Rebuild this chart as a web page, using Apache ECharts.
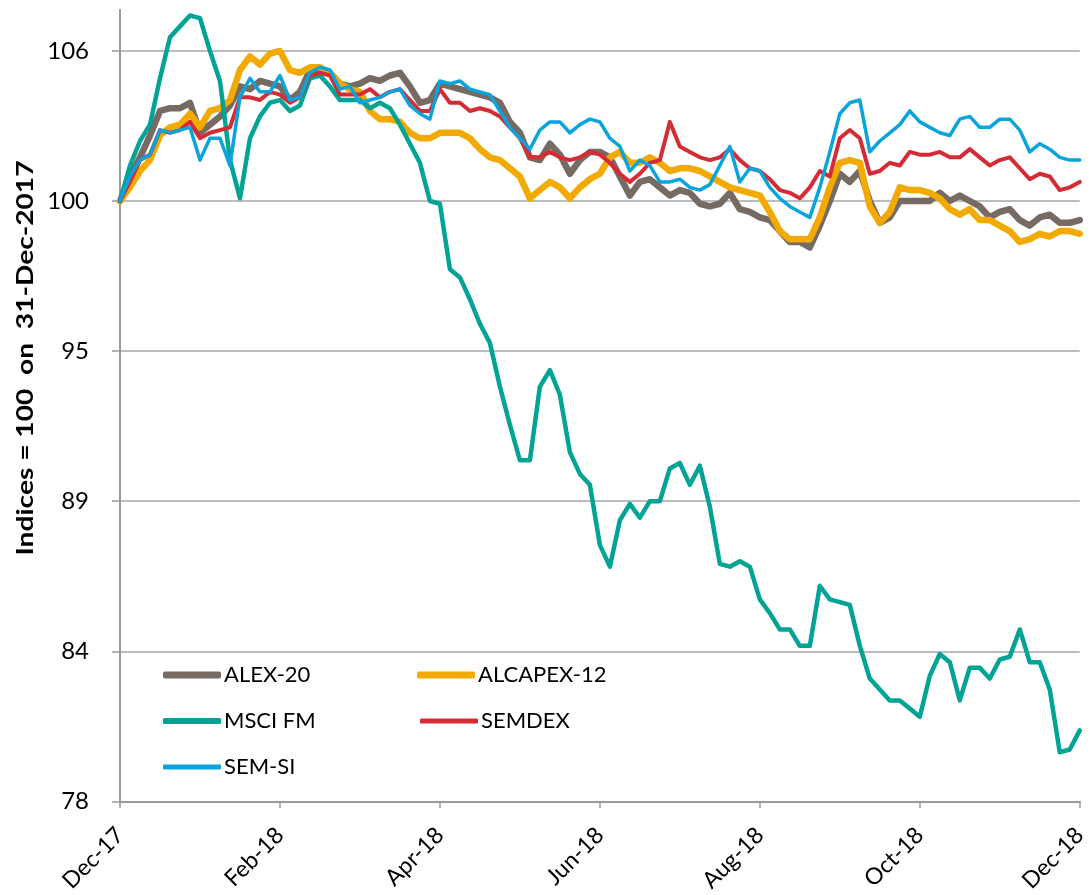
<!DOCTYPE html>
<html>
<head>
<meta charset="utf-8">
<script src="https://cdn.jsdelivr.net/npm/echarts@6/dist/echarts.min.js"></script>
<style>
html,body{margin:0;padding:0;background:#fff;}
#chart{width:1090px;height:895px;}
</style>
</head>
<body>
<div id="chart"></div>
<script>
// ---- data ----
const xTickLabels = ['Dec-17','Feb-18','Apr-18','Jun-18','Aug-18','Oct-18','Dec-18'];
const yTickLabels = ['78','84','89','95','100','106'];
const stepMonths = 1/8; // values sampled every 1/8 month from 31-Dec-2017
const seriesNames = ['ALEX-20','ALCAPEX-12','MSCI FM','SEMDEX','SEM-SI'];

const alex20 = [
100.0,100.9,101.6,102.4,103.3,103.4,103.4,103.6,102.5,102.8,
103.1,103.5,104.2,104.1,104.4,104.3,104.2,103.7,104.0,104.8,
104.8,104.7,104.3,104.2,104.3,104.5,104.4,104.6,104.7,104.2,
103.6,103.7,104.3,104.2,104.1,104.0,103.9,103.8,103.6,102.9,
102.5,101.6,101.5,102.1,101.7,101.0,101.5,101.8,101.8,101.6,
100.9,100.2,100.7,100.8,100.5,100.2,100.4,100.3,99.9,99.8,
99.9,100.3,99.7,99.6,99.4,99.3,98.9,98.5,98.5,98.3,
99.1,100.0,101.0,100.7,101.1,100.0,99.2,99.4,100.0,100.0,
100.0,100.0,100.3,100.0,100.2,100.0,99.8,99.4,99.6,99.7,
99.3,99.1,99.4,99.5,99.2,99.2,99.3];

const alcapex12 = [
100.0,100.5,101.1,101.5,102.4,102.7,102.8,103.2,102.7,103.3,
103.4,103.7,104.8,105.3,105.0,105.4,105.5,104.8,104.7,104.9,
104.9,104.7,104.3,104.1,104.0,103.3,103.0,103.0,102.9,102.5,
102.3,102.3,102.5,102.5,102.5,102.3,101.9,101.6,101.5,101.2,
100.9,100.1,100.4,100.7,100.5,100.1,100.5,100.8,101.0,101.6,
101.8,101.4,101.4,101.6,101.4,101.1,101.2,101.2,101.1,100.9,
100.7,100.5,100.4,100.3,100.2,99.6,98.9,98.6,98.6,98.6,
99.4,100.5,101.4,101.5,101.4,99.8,99.2,99.6,100.5,100.4,
100.4,100.3,100.1,99.7,99.5,99.7,99.3,99.3,99.1,98.9,
98.5,98.6,98.8,98.7,98.9,98.9,98.8];

const msciFM = [
100.0,101.3,102.2,102.8,104.5,106.0,106.4,106.8,106.7,105.5,
104.4,101.5,100.1,102.3,103.1,103.6,103.7,103.3,103.5,104.5,
104.6,104.2,103.7,103.7,103.7,103.4,103.6,103.4,102.8,102.1,
101.4,100.0,99.9,97.5,97.2,96.4,95.5,94.8,93.2,91.8,
90.5,90.5,93.2,93.8,92.9,90.8,90.0,89.6,87.4,86.6,
88.3,88.9,88.4,89.0,89.0,90.2,90.4,89.6,90.3,88.8,
86.7,86.6,86.8,86.6,85.4,84.9,84.3,84.3,83.7,83.7,
85.9,85.4,85.3,85.2,83.7,82.5,82.1,81.7,81.7,81.4,
81.1,82.6,83.4,83.1,81.7,82.9,82.9,82.5,83.2,83.3,
84.3,83.1,83.1,82.1,79.8,79.9,80.6];

const semdex = [
100.0,100.7,101.5,101.7,102.6,102.5,102.6,102.9,102.3,102.5,
102.6,102.7,103.8,103.8,103.7,104.0,103.9,103.6,103.8,104.6,
104.7,104.6,103.9,103.9,103.9,104.1,103.8,104.0,104.1,103.7,
103.3,103.3,104.1,103.6,103.6,103.3,103.4,103.3,103.1,102.7,
102.3,101.6,101.6,101.8,101.6,101.5,101.6,101.8,101.7,101.4,
101.0,100.7,101.0,101.4,101.5,102.9,102.0,101.8,101.6,101.5,
101.6,101.9,101.5,101.2,101.1,100.8,100.4,100.3,100.1,100.5,
101.1,100.9,102.3,102.6,102.3,101.0,101.1,101.4,101.3,101.8,
101.7,101.7,101.8,101.6,101.6,101.9,101.6,101.3,101.5,101.6,
101.2,100.8,101.0,100.9,100.4,100.5,100.7];

const semSI = [
100.0,100.9,101.5,101.7,102.6,102.5,102.6,102.7,101.5,102.3,
102.3,101.3,103.8,104.5,104.0,104.0,104.6,103.7,103.8,104.7,
104.9,104.8,104.1,104.2,103.6,103.7,103.8,104.0,104.1,103.5,
103.2,103.0,104.4,104.3,104.4,104.1,104.0,103.9,103.3,102.7,
102.3,101.9,102.6,102.9,102.9,102.5,102.8,103.0,102.9,102.3,
102.0,101.1,101.5,101.3,100.7,100.7,100.8,100.5,100.4,100.6,
101.3,102.0,100.7,101.2,101.1,100.5,100.1,99.8,99.6,99.4,
100.5,101.8,103.2,103.6,103.7,101.8,102.2,102.5,102.8,103.3,
102.9,102.7,102.5,102.4,103.0,103.1,102.7,102.7,103.0,103.0,
102.6,101.8,102.1,101.9,101.6,101.5,101.5];

// ---- chart ----
const FONT = 'Lato, "Open Sans", sans-serif';
const colors = ['#766a62','#f2a900','#00a394','#d52b35','#0aa4dc'];
const widths = [6.5,6.5,4.5,4,3.5];
const values = [alex20, alcapex12, msciFM, semdex, semSI];

function toPairs(arr){ return arr.map((v,i)=>[i*stepMonths, v]); }

const series = seriesNames.map((name, k) => ({
  name: name,
  type: 'line',
  data: toPairs(values[k]),
  showSymbol: false,
  symbol: 'none',
  smooth: false,
  animation: false,
  z: 2 + k,
  lineStyle: {color: colors[k], width: widths[k], cap: 'round', join: 'round'},
  itemStyle: {color: colors[k]}
}));

const legendPos = [
  {left:163, top:664},
  {left:417, top:664},
  {left:163, top:710},
  {left:420, top:710},
  {left:163, top:756}
];
const legendIconH = [7,7,6,5,5];
const legends = seriesNames.map((name,k)=>({
  data: [{name: name, icon: 'roundRect'}],
  left: legendPos[k].left, top: legendPos[k].top,
  itemWidth: 58, itemHeight: legendIconH[k],
  itemGap: 0,
  itemStyle: {color: colors[k]},
  textStyle: {fontSize: 22, color: '#000', fontFamily: FONT, padding: [0,0,0,-2]},
  selectedMode: false,
  padding: 0
}));

const chart = echarts.init(document.getElementById('chart'), null, {renderer: 'canvas'});
chart.setOption({
  animation: false,
  backgroundColor: '#ffffff',
  grid: {left: 120, right: 10, top: 10, bottom: 93, containLabel: false},
  legend: legends,
  xAxis: {
    type: 'value', min: 0, max: 12, interval: 2,
    axisLine: {show: true, lineStyle: {color: '#9a9a9a', width: 2}},
    axisTick: {show: true, length: 7, lineStyle: {color: '#9a9a9a', width: 1.5}},
    splitLine: {show: false},
    axisLabel: {
      rotate: 45, fontSize: 23, color: '#000', fontFamily: FONT, margin: 30,
      formatter: v => xTickLabels[Math.round(v/2)] || ''
    }
  },
  yAxis: {
    type: 'value', min: 78, max: 107, interval: 5.5,
    axisLine: {show: true, lineStyle: {color: '#9a9a9a', width: 2}},
    axisTick: {show: true, length: 8, lineStyle: {color: '#9a9a9a', width: 1.5}},
    splitLine: {show: true, showMinLine: false, showMaxLine: false, lineStyle: {color: '#a6a6a6', width: 1.5}},
    axisLabel: {
      fontSize: 24, color: '#000', fontFamily: FONT, margin: 31,
      showMaxLabel: false,
      formatter: v => {
        const idx = Math.round((v - 78) / 5.5);
        if (Math.abs(78 + idx*5.5 - v) > 0.01) return '';
        return yTickLabels[idx] || '';
      }
    }
  },
  graphic: [{
    type: 'text',
    x: 26, y: 358,
    rotation: Math.PI/2,
    scaleX: 1.28,
    style: {
      text: 'Indices = 100  on  31-Dec-2017',
      font: 'bold 22px ' + FONT,
      fill: '#000',
      textAlign: 'center',
      textVerticalAlign: 'middle'
    }
  }],
  series: series
});
</script>
</body>
</html>
